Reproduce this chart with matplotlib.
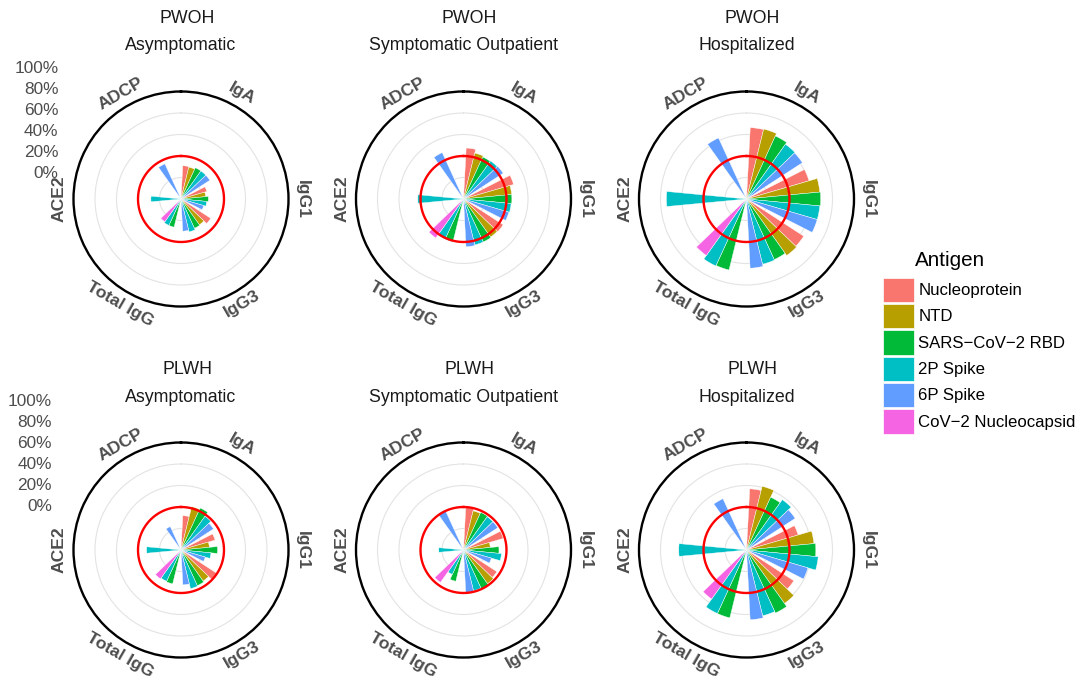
"""
Polar bar chart of antibody responses, PWOH vs PLWH, by disease severity
"""
import numpy as np
import matplotlib
matplotlib.use('Agg')
import matplotlib.pyplot as plt
from matplotlib.patches import Patch

plt.rcParams['font.family'] = ['Liberation Sans', 'DejaVu Sans']

# ---- data ----
ASSAYS = ['IgA', 'IgG1', 'IgG3', 'Total IgG', 'ACE2', 'ADCP']
ANTIGENS = ['Nucleoprotein', 'NTD', 'SARS\u2212CoV\u22122 RBD', '2P Spike', '6P Spike',
            'CoV\u22122 Nucleocapsid']
ANTIGEN_COLORS = ['#F8766D', '#B79F00', '#00BA38', '#00BFC4', '#619CFF', '#F564E3']

# order of the bars in every panel
BAR_ASSAY = ['IgA'] * 5 + ['IgG1'] * 5 + ['IgG3'] * 5 + ['Total IgG'] * 3 + ['ACE2', 'ADCP']
BAR_ANTIGEN = (ANTIGENS[:5] * 3
               + ['SARS\u2212CoV\u22122 RBD', '2P Spike', 'CoV\u22122 Nucleocapsid']
               + ['2P Spike', '6P Spike'])

GROUPS = ['PWOH', 'PLWH']
CONDITIONS = ['Asymptomatic', 'Symptomatic Outpatient', 'Hospitalized']

# percent of responders, same order as BAR_ASSAY / BAR_ANTIGEN
pwoh_asym = [31, 30.5, 32, 32, 32,   25, 23, 25.5, 24, 22,   33, 29.5, 30, 31.5, 30,   27, 27, 26,   28, 36]
pwoh_symp = [47.5, 44, 43, 43.5, 44,   48.5, 45, 45, 44.5, 44,   44, 43.5, 44, 44, 44.5,   41, 41, 44.5,   42.5, 47.5]
pwoh_hosp = [66.5, 67, 64.5, 62.5, 62,   60.5, 68.5, 69, 68.5, 68.5,   63.5, 64.5, 62, 62.5, 64.5,   68, 68.5, 64.5,   74.5, 62.5]
plwh_asym = [32, 41.5, 43, 38.5, 36,   33, 26.5, 34, 28, 23.5,   40, 35.5, 36.5, 37, 32.5,   32.5, 32, 33,   32, 24]
plwh_symp = [39.5, 37.5, 38.5, 38, 38,   38.5, 25, 33, 35.5, 27,   37, 38.5, 40.5, 39, 39.5,   30, 25, 37,   23, 41]
plwh_hosp = [57, 61, 54, 57.5, 54,   50, 63, 64.5, 67, 59.5,   52.5, 61, 64.5, 63, 65,   65, 65, 56,   63, 52.5]

PANEL_VALUES = [[pwoh_asym, pwoh_symp, pwoh_hosp],
                [plwh_asym, plwh_symp, plwh_hosp]]

RADIAL_TICKS = [0, 20, 40, 60, 80, 100]
GRID_BREAKS = [20, 40, 60, 80]
THRESHOLD = 40
DODGE = 0.18  # width of one dodged bar, in category units

# ---- layout (pixels) ----
W, H = 1078, 686
COL_X = [181, 463.5, 746.5]
ROW_Y = [199, 550]
RADIUS = 107.5
TEXT_GREY = '#4D4D4D'


def bar_positions():
    thetas = []
    for i, assay in enumerate(BAR_ASSAY):
        members = [j for j, a in enumerate(BAR_ASSAY) if a == assay]
        k, n = members.index(i), len(members)
        x = ASSAYS.index(assay) + 1 + (k - (n - 1) / 2) * DODGE
        thetas.append((x - 0.5) / len(ASSAYS) * 2 * np.pi)
    return np.array(thetas)


thetas = bar_positions()
bar_width = DODGE / len(ASSAYS) * 2 * np.pi
bar_colors = [ANTIGEN_COLORS[ANTIGENS.index(a)] for a in BAR_ANTIGEN]

fig = plt.figure(figsize=(W / 100, H / 100), dpi=100)

for r, group in enumerate(GROUPS):
    for c, cond in enumerate(CONDITIONS):
        cx, cy = COL_X[c], ROW_Y[r]
        ax = fig.add_axes([(cx - RADIUS) / W, (H - cy - RADIUS) / H, 2 * RADIUS / W, 2 * RADIUS / H],
                          projection='polar')
        ax.set_theta_zero_location('N')
        ax.set_theta_direction(-1)
        ax.set_ylim(0, 100)
        ax.set_yticks(GRID_BREAKS)
        ax.set_yticklabels([])
        ax.set_xticks([])
        ax.yaxis.grid(True, color='#E3E3E3', linewidth=0.8)
        ax.set_axisbelow(True)
        ax.spines['polar'].set_linewidth(1.7)
        ax.spines['polar'].set_color('black')

        ax.bar(thetas, PANEL_VALUES[r][c], width=bar_width, bottom=0, color=bar_colors,
               edgecolor='white', linewidth=0.3, align='center', zorder=2)

        ring = np.linspace(0, 2 * np.pi, 361)
        ax.plot(ring, np.full_like(ring, THRESHOLD), color='#FF0000', linewidth=1.7, zorder=3)

        # category labels around the circle
        for i, assay in enumerate(ASSAYS):
            deg = (i + 0.5) / len(ASSAYS) * 360
            rot = 180 - deg if 90 < deg < 270 else -deg
            ax.text(np.deg2rad(deg), 113, assay, rotation=rot, rotation_mode='anchor',
                    ha='center', va='center', fontsize=12.6, fontweight='bold',
                    color=TEXT_GREY, clip_on=False)

        # facet strips
        fig.text((cx + 6) / W, 1 - (cy - 180.5) / H, group, ha='center', va='center',
                 fontsize=12.8, color='#1A1A1A')
        fig.text(cx / W, 1 - (cy - 153) / H, cond, ha='center', va='center',
                 fontsize=12.8, color='#1A1A1A')

# radial axis labels (left column only)
for right_px, zero_px, top_px in [(58.5, 171.7, 67.3), (52, 505, 400)]:
    axr = fig.add_axes([right_px / W, (H - zero_px) / H, 0.001, (zero_px - top_px) / H])
    axr.set_ylim(0, 100)
    axr.set_yticks(RADIAL_TICKS)
    axr.set_yticklabels([f'{v}%' for v in RADIAL_TICKS])
    axr.set_xticks([])
    axr.tick_params(axis='y', length=0, pad=0, labelsize=12.4, labelcolor=TEXT_GREY)
    for s in axr.spines.values():
        s.set_visible(False)
    axr.patch.set_visible(False)

# legend
handles = [Patch(facecolor=col, edgecolor='white', linewidth=0.5) for col in ANTIGEN_COLORS]
fig.legend(handles, ANTIGENS, loc='upper left', bbox_to_anchor=(883 / W, 1 - 277.5 / H),
           frameon=False, fontsize=12.1, handlelength=1.85, handleheight=1.85,
           labelspacing=0.12, handletextpad=0.26, borderpad=0, borderaxespad=0)
fig.text(915 / W, 1 - 260 / H, 'Antigen', ha='left', va='center', fontsize=14.9, color='black')

plt.savefig('out.png', dpi=100)
